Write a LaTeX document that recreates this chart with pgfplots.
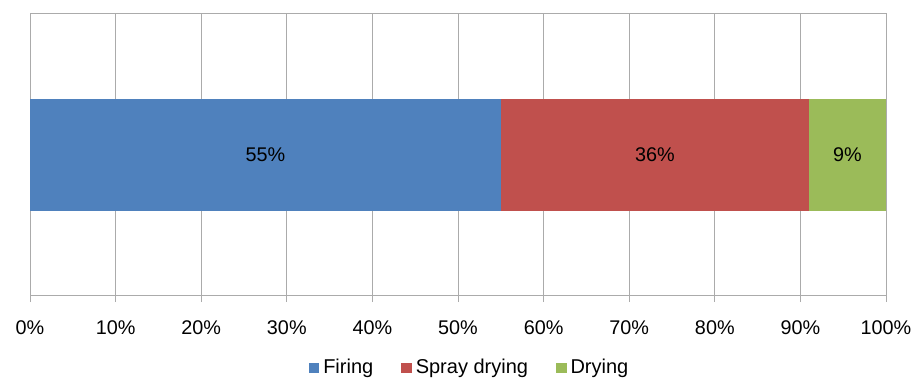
\documentclass[border=0pt]{standalone}
\usepackage{pgfplots}
\pgfplotsset{compat=1.18}
\usepackage{fontspec}
\setmainfont{Liberation Sans}
\definecolor{cBlue}{HTML}{4F81BD}
\definecolor{cRed}{HTML}{C0504D}
\definecolor{cGreen}{HTML}{9BBB59}
\definecolor{gridc}{HTML}{ABABAB}
\begin{document}
\fontsize{19.5pt}{23pt}\selectfont
\begin{tikzpicture}
\begin{axis}[
  name=ax,
  scale only axis, width=856pt, height=281pt,
  xbar stacked, bar width=112pt,
  xmin=0, xmax=100, ymin=-1, ymax=1,
  ytick=\empty,
  xtick={0,10,...,100},
  xticklabels={0\%,10\%,20\%,30\%,40\%,50\%,60\%,70\%,80\%,90\%,100\%},
  xmajorgrids, grid style={gridc, line width=1pt},
  axis line style={gridc, line width=1pt},
  xtick style={gridc, line width=1pt},
  xtick pos=bottom, tick align=outside, major tick length=7pt,
  xticklabel style={font=\fontsize{19.8pt}{23pt}\selectfont, yshift=-12pt},
  /pgf/number format/assume math mode=true,
  legend columns=-1,
  legend style={at={(0.5135,-0.26)}, anchor=center, draw=none, fill=none,
    font=\fontsize{20pt}{24pt}\selectfont,
    /tikz/every even column/.append style={column sep=26pt}},
  legend image code/.code={\fill[#1] (0pt,-5pt) rectangle (10.5pt,5.5pt); \path (12.5pt,0pt);},
]
\addplot[fill=cBlue, draw=none] coordinates {(55,0)};
\addplot[fill=cRed, draw=none] coordinates {(36,0)};
\addplot[fill=cGreen, draw=none] coordinates {(9,0)};
\legend{Firing, Spray drying, Drying}
\end{axis}
\node[font=\fontsize{19.8pt}{23pt}\selectfont, text=black] at ([xshift=235.4pt]ax.west) {55\%};
\node[font=\fontsize{19.8pt}{23pt}\selectfont, text=black] at ([xshift=624.9pt]ax.west) {36\%};
\node[font=\fontsize{19.8pt}{23pt}\selectfont, text=black] at ([xshift=817.5pt]ax.west) {9\%};
\pgfresetboundingbox
\path ([shift={(-30pt,-83pt)}]ax.south west) rectangle ([shift={(32pt,14pt)}]ax.north east);
\end{tikzpicture}
\end{document}
